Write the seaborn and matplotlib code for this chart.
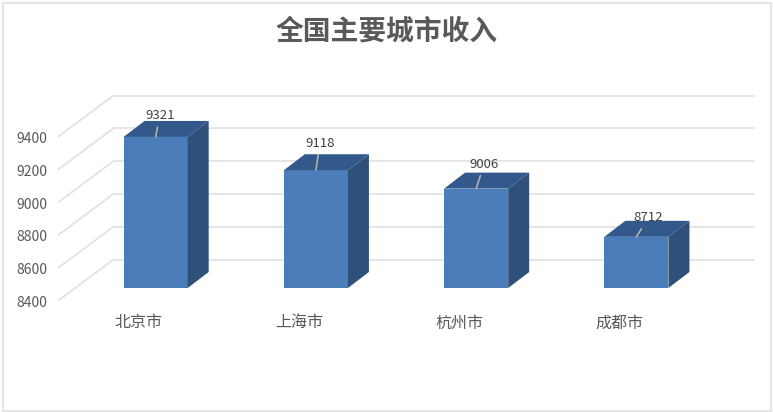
import matplotlib
matplotlib.use('Agg')
import matplotlib.pyplot as plt
from matplotlib.patches import Polygon, Rectangle
from matplotlib.transforms import ScaledTranslation
import pandas as pd
import seaborn as sns

cities = ['北京市', '上海市', '杭州市', '成都市']
income = [9321, 9118, 9006, 8712]
ticks = [8400, 8600, 8800, 9000, 9200, 9400]
title = '全国主要城市收入'

sns.set_theme(style='white')
plt.rcParams['font.family'] = ['Noto Sans CJK SC', 'DejaVu Sans']

W, H = 773, 412
fig = plt.figure(figsize=(W / 100, H / 100), dpi=100)
ax = fig.add_axes([75.5 / W, (H - 288) / H, 641 / W, 164 / H])

df = pd.DataFrame({'city': cities, 'income': income})
sns.barplot(data=df, x='city', y='income', color='#4b7dbb', saturation=1, width=0.4,
            edgecolor='none', linewidth=0, ax=ax, zorder=3)
ax.set_xlim(-0.5, 3.5)
ax.set_ylim(8400, 9400)
ax.set_xlabel('')
ax.set_ylabel('')
sns.despine(ax=ax, left=True, bottom=True)

# fake 3d depth, px converted to data units
px_x = 4 / 641
px_y = 1000 / 164
dx, dy = 21 * px_x, 16 * px_y

# walls: back lines and the diagonal on the left side
for t in ticks:
    ax.plot([-0.5 - 17 * px_x, -0.5 + 38 * px_x], [t - 12.5 * px_y, t + 28.5 * px_y],
            color='#e0e0e0', lw=1.2, clip_on=False, zorder=1)
    ax.plot([-0.5 + 38 * px_x, 3.5 + 38 * px_x], [t + 28.5 * px_y, t + 28.5 * px_y],
            color='#e0e0e0', lw=1.2, clip_on=False, zorder=1)

# side and top faces
for bar, v in zip(ax.patches, income):
    x0, x1 = bar.get_x(), bar.get_x() + bar.get_width()
    side = [(x1, 8400), (x1 + dx, 8400 + dy), (x1 + dx, v + dy), (x1, v)]
    top = [(x0, v), (x0 + dx, v + dy), (x1 + dx, v + dy), (x1, v)]
    ax.add_patch(Polygon(side, fc='#2e5079', ec='none', clip_on=False, zorder=3))
    ax.add_patch(Polygon(top, fc='#33598c', ec='none', clip_on=False, zorder=3))

# data labels with leader lines
label_px = [(4, 21), (4, 27), (8, 24), (12, 19)]
for i, v in enumerate(income):
    off = label_px[i]
    ax.annotate(str(v), xy=(i, v), xytext=(off[0] * 0.72, off[1] * 0.72), textcoords='offset points',
                ha='center', va='center', fontsize=9.5, color='#404040', zorder=5,
                arrowprops=dict(arrowstyle='-', color='#b0b0b0', lw=1.2, shrinkA=1, shrinkB=0))

ax.set_yticks(ticks)
ax.set_yticklabels([str(t) for t in ticks])
ax.tick_params(axis='y', length=0, pad=20, labelsize=10, labelcolor='#595959')
ax.tick_params(axis='x', length=0, pad=19, labelsize=11.5, labelcolor='#595959')

ylab_shift = ScaledTranslation(0, -13.5 / 100, fig.dpi_scale_trans)
for lab in ax.get_yticklabels():
    lab.set_transform(lab.get_transform() + ylab_shift)
xlab_shift = ScaledTranslation(-17 / 100, 0, fig.dpi_scale_trans)
for lab in ax.get_xticklabels():
    lab.set_transform(lab.get_transform() + xlab_shift)

fig.text(387 / W, 1 - 31.5 / H, title, ha='center', va='center', fontsize=20, fontweight='bold', color='#595959')

# chart frame
fig.add_artist(Rectangle((2.5 / W, 1.5 / H), (W - 5) / W, (H - 4) / H, transform=fig.transFigure,
                         fc='none', ec='#e6e6e6', lw=1.5))

fig.savefig('out.png', dpi=100)
